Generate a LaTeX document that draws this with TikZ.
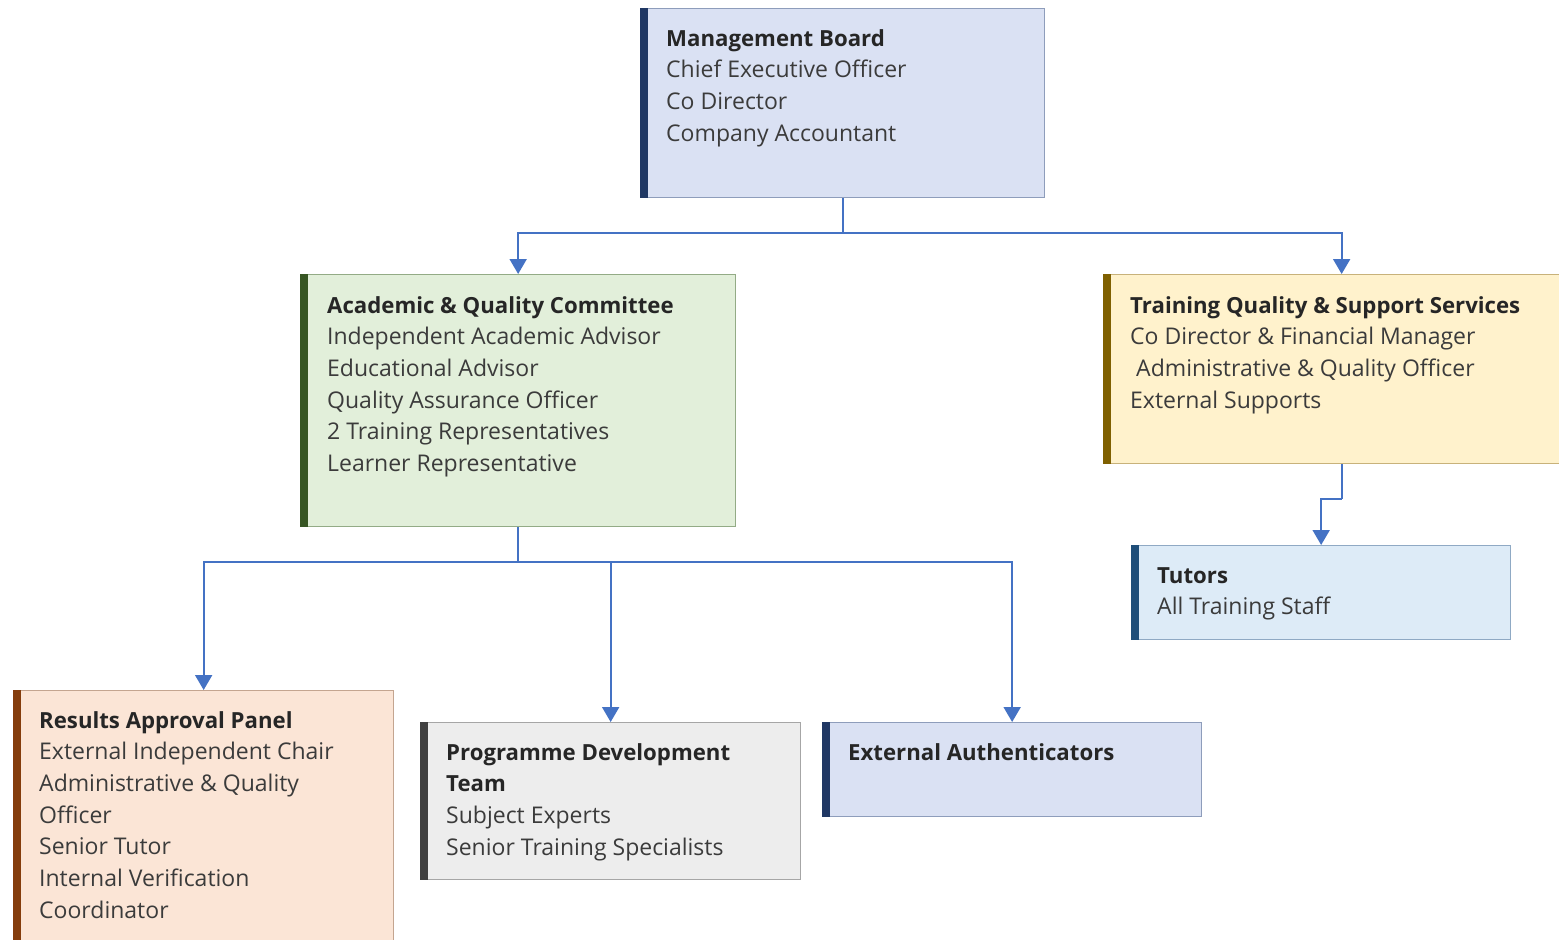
\documentclass[tikz,border=0pt]{standalone}
\usepackage{fontspec}
\setmainfont{Open Sans}
\usetikzlibrary{arrows.meta}
\definecolor{conncol}{HTML}{4472C4}
\definecolor{txt}{HTML}{3B3B3B}
\definecolor{ttl}{HTML}{262626}
\definecolor{fblue}{HTML}{DAE1F3}
\definecolor{bblue}{HTML}{8E9DBB}
\definecolor{kblue}{HTML}{203864}
\definecolor{fgreen}{HTML}{E2EFDA}
\definecolor{bgreen}{HTML}{93AB86}
\definecolor{kgreen}{HTML}{375623}
\definecolor{fyel}{HTML}{FFF2CC}
\definecolor{byel}{HTML}{C8B27A}
\definecolor{kyel}{HTML}{7F6000}
\definecolor{flb}{HTML}{DDEBF7}
\definecolor{blb}{HTML}{8FA9C4}
\definecolor{klb}{HTML}{1F4E79}
\definecolor{forg}{HTML}{FBE5D6}
\definecolor{borg}{HTML}{C4A590}
\definecolor{korg}{HTML}{843C0C}
\definecolor{fgry}{HTML}{EDEDED}
\definecolor{bgry}{HTML}{A6A6A6}
\definecolor{kgry}{HTML}{404040}
\newcommand{\ttlline}[1]{{\fontsize{22.2}{31.7}\selectfont\bfseries\color{ttl}#1}}
\newcommand{\boxlines}[1]{\parbox[t]{480pt}{\raggedright\leavevmode #1\par}}
\tikzset{
  orgbox/.style={draw=#1, line width=1.3pt, inner sep=0pt, anchor=north west},
  boxtext/.style={anchor=base west, inner sep=0pt, text=txt, font=\fontsize{23}{31.7}\selectfont},
  conn/.style={draw=conncol, line width=2pt},
  arr/.style={conn, -{Triangle[width=17pt,length=15pt]}},
}
\begin{document}
\begin{tikzpicture}[x=1pt,y=-1pt]
\useasboundingbox (0,0) rectangle (1559,940);
\fill[white] (0,0) rectangle (1559,940);
% boxes
\node[orgbox=bblue, fill=fblue, minimum width=404pt, minimum height=189pt] (mb) at (640,8) {};
\fill[kblue] (mb.north west) rectangle ([xshift=8pt]mb.south west);
\node[orgbox=bgreen, fill=fgreen, minimum width=435pt, minimum height=252pt] (aq) at (300,274) {};
\fill[kgreen] (aq.north west) rectangle ([xshift=8pt]aq.south west);
\node[orgbox=byel, fill=fyel, minimum width=476pt, minimum height=189pt] (tq) at (1103,274) {};
\fill[kyel] (tq.north west) rectangle ([xshift=8pt]tq.south west);
\node[orgbox=blb, fill=flb, minimum width=379pt, minimum height=94pt] (tu) at (1131,545) {};
\fill[klb] (tu.north west) rectangle ([xshift=8pt]tu.south west);
\node[orgbox=borg, fill=forg, minimum width=380pt, minimum height=270pt] (rp) at (13,690) {};
\fill[korg] (rp.north west) rectangle ([xshift=8pt]rp.south west);
\node[orgbox=bgry, fill=fgry, minimum width=380pt, minimum height=157pt] (pd) at (420,722) {};
\fill[kgry] (pd.north west) rectangle ([xshift=8pt]pd.south west);
\node[orgbox=bblue, fill=fblue, minimum width=379pt, minimum height=94pt] (ea) at (822,722) {};
\fill[kblue] (ea.north west) rectangle ([xshift=8pt]ea.south west);
% texts
\node[boxtext] (mbt) at (666,46) {\boxlines{\ttlline{Management Board}\\Chief Executive Officer\\Co Director\\Company Accountant}};
\node[boxtext] (aqt) at (327,313) {\boxlines{\ttlline{Academic \& Quality Committee}\\Independent Academic Advisor\\Educational Advisor\\Quality Assurance Officer\\2 Training Representatives\\Learner Representative}};
\node[boxtext] (tqt) at (1130,313) {\boxlines{\ttlline{Training Quality \& Support Services}\\Co Director \& Financial Manager\\\hspace*{6pt}Administrative \& Quality Officer\\External Supports}};
\node[boxtext] (tut) at (1157,583) {\boxlines{\ttlline{Tutors}\\All Training Staff}};
\node[boxtext] (rpt) at (39,728) {\boxlines{\ttlline{Results Approval Panel}\\External Independent Chair\\Administrative \& Quality\\Officer\\Senior Tutor\\Internal Verification\\Coordinator}};
\node[boxtext] (pdt) at (446,760) {\boxlines{\ttlline{Programme Development}\\\ttlline{Team}\\Subject Experts\\Senior Training Specialists}};
\node[boxtext] (eat) at (848,760) {\boxlines{\ttlline{External Authenticators}}};
% connectors
\coordinate (j1) at (842,233);
\coordinate (j2) at (517,562);
\coordinate (j3) at (1341,499);
\draw[conn] (mb.south) -- (mb.south |- j1);
\draw[arr] (mb.south |- j1) -| (aq.north);
\draw[arr] (mb.south |- j1) -| (tq.north);
\draw[conn] (aq.south) -- (aq.south |- j2);
\draw[arr] (aq.south |- j2) -| (rp.north);
\draw[arr] (aq.south |- j2) -| (pd.north);
\draw[arr] (aq.south |- j2) -| (ea.north);
\draw[conn] (tq.south) -- (tq.south |- j3);
\draw[arr] (tq.south |- j3) -| (tu.north);
\end{tikzpicture}
\end{document}
